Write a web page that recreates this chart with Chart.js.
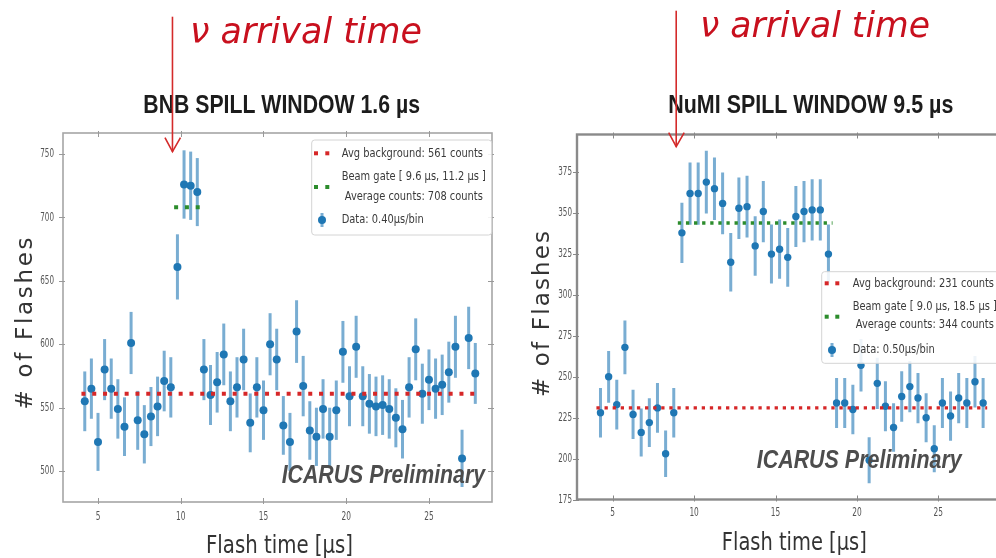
<!DOCTYPE html>
<html><head><meta charset="utf-8">
<script src="https://cdn.jsdelivr.net/npm/chart.js@4.4.1/dist/chart.umd.min.js"></script>
<style>
html,body{margin:0;padding:0;background:#fff;overflow:hidden;width:996px;height:558px;}
#wrap{position:relative;width:996px;height:558px;overflow:hidden;background:#fff;}
canvas{position:absolute;top:0;}
#cL{left:0;width:500px;height:558px;}
#cR{left:510px;width:500px;height:558px;}
</style></head><body>
<div id="wrap"><canvas id="cL" width="500" height="558"></canvas><canvas id="cR" width="500" height="558"></canvas></div>
<script>
// ---------------- BNB (left) ----------------
const bnbTime = [4.2,4.6,5.0,5.4,5.8,6.2,6.6,7.0,7.4,7.8,8.2,8.6,9.0,9.4,9.8,10.2,10.6,11.0,11.4,11.8,
  12.2,12.6,13.0,13.4,13.8,14.2,14.6,15.0,15.4,15.8,16.2,16.6,17.0,17.4,17.8,18.2,18.6,19.0,19.4,19.8,
  20.2,20.6,21.0,21.4,21.8,22.2,22.6,23.0,23.4,23.8,24.2,24.6,25.0,25.4,25.8,26.2,26.6,27.0,27.4,27.8];
const bnbCounts = [555,565,523,580,565,549,535,601,540,529,543,551,571,566,661,726,725,720,580,560,
  570,592,555,566,588,538,566,548,600,588,536,523,610,567,532,527,549,527,548,594,
  559,598,559,553,551,552,549,542,533,566,596,561,572,565,568,578,598,510,605,577];
const bnbBackground = 561;
const bnbBackgroundRange = [4.0, 28.0];
const bnbGateAverage = 708;
const bnbGateRange = [9.6, 11.2];
const bnbArrival = 9.5;
const bnbXTicks = [5, 10, 15, 20, 25];
const bnbYTicks = [500, 550, 600, 650, 700, 750];
const bnbXRange = [2.885, 28.81];
const bnbYRange = [475.6, 766.6];
const bnbTitle = 'BNB SPILL WINDOW 1.6 µs';
const bnbLegend = ['Avg background: 561 counts', 'Beam gate [ 9.6 µs, 11.2 µs ]', 'Average counts: 708 counts', 'Data: 0.40µs/bin'];

// ---------------- NuMI (right) ----------------
const numiTime = [4.25,4.75,5.25,5.75,6.25,6.75,7.25,7.75,8.25,8.75,9.25,9.75,10.25,10.75,11.25,11.75,
  12.25,12.75,13.25,13.75,14.25,14.75,15.25,15.75,16.25,16.75,17.25,17.75,18.25,18.75,19.25,19.75,
  20.25,20.75,21.25,21.75,22.25,22.75,23.25,23.75,24.25,24.75,25.25,25.75,26.25,26.75,27.25,27.75];
const numiCounts = [228,250,233,268,227,216,222,231,203,228,338,362,362,369,365,356,
  320,353,354,330,351,325,328,323,348,351,352,352,325,234,234,230,
  257,199,246,232,219,238,244,237,225,206,234,226,237,234,247,234];
const numiBackground = 231;
const numiBackgroundRange = [4.0, 28.0];
const numiGateAverage = 344;
const numiGateRange = [9.0, 18.5];
const numiArrival = 8.9;
const numiXTicks = [5, 10, 15, 20, 25];
const numiYTicks = [175, 200, 225, 250, 275, 300, 325, 350, 375];
const numiXRange = [2.807, 28.91];
const numiYRange = [175, 398.1];
const numiTitle = 'NuMI SPILL WINDOW 9.5 µs';
const numiLegend = ['Avg background: 231 counts', 'Beam gate [ 9.0 µs, 18.5 µs ]', 'Average counts: 344 counts', 'Data: 0.50µs/bin'];

const nuLabel = 'ν arrival time';
const xAxisTitle = 'Flash time [µs]';
const yAxisTitle = '# of Flashes';
const watermark = 'ICARUS Preliminary';

// ---------------- helpers ----------------
function drawText(ctx, s, x, y, font, color, o) {
  o = o || {};
  ctx.save();
  ctx.font = font; ctx.fillStyle = color;
  ctx.textBaseline = o.baseline || 'alphabetic';
  ctx.textAlign = 'left';
  const w = ctx.measureText(s).width;
  const sx = o.width ? o.width / w : (o.sx || 1);
  let x0 = x;
  if (o.align === 'center') x0 = x - w * sx / 2;
  else if (o.align === 'right') x0 = x - w * sx;
  ctx.translate(x0, y); ctx.scale(sx, 1);
  ctx.fillText(s, 0, 0);
  ctx.restore();
}
function drawSpacedVertical(ctx, s, bx, cy, len, font, color) {
  ctx.save();
  ctx.font = font; ctx.fillStyle = color; ctx.textBaseline = 'alphabetic'; ctx.textAlign = 'left';
  const chars = Array.from(s);
  const ws = chars.map(c => ctx.measureText(c).width);
  const tot = ws.reduce((a, b) => a + b, 0);
  const gap = (len - tot) / (chars.length - 1);
  ctx.translate(bx, cy); ctx.rotate(-Math.PI / 2);
  let u = -len / 2;
  chars.forEach((c, i) => { ctx.fillText(c, u, 0); u += ws[i] + gap; });
  ctx.restore();
}

function makeChart(id, d, s) {
  const errs = d.counts.map(c => Math.sqrt(c)); // Poisson error bars (√N), as in the reference
  const pts = d.time.map((t, i) => ({ x: t, y: d.counts[i] }));
  const overlay = {
    id: 'overlay_' + id,
    beforeDatasetsDraw(chart) {
      const { ctx, chartArea: a, scales: { x, y } } = chart;
      ctx.save();
      ctx.beginPath(); ctx.rect(a.left, a.top, a.right - a.left, a.bottom - a.top); ctx.clip();
      ctx.strokeStyle = 'rgba(31,119,180,0.6)'; ctx.lineWidth = s.errW; ctx.lineCap = 'butt';
      d.time.forEach((t, i) => {
        const xp = x.getPixelForValue(t);
        ctx.beginPath();
        ctx.moveTo(xp, y.getPixelForValue(d.counts[i] - errs[i]));
        ctx.lineTo(xp, y.getPixelForValue(d.counts[i] + errs[i]));
        ctx.stroke();
      });
      ctx.restore();
    },
    afterDatasetsDraw(chart) {
      const { ctx, chartArea: a, scales: { x, y } } = chart;
      // frame
      ctx.save();
      ctx.strokeStyle = s.frameColor; ctx.lineWidth = s.frameW;
      ctx.strokeRect(a.left, a.top, a.right - a.left, a.bottom - a.top);
      // ticks
      ctx.lineWidth = 1; ctx.strokeStyle = s.tickColor;
      d.xTicks.forEach(v => {
        const xp = Math.round(x.getPixelForValue(v)) + 0.5;
        ctx.beginPath(); ctx.moveTo(xp, a.top - 2); ctx.lineTo(xp, a.top + 4); ctx.stroke();
        ctx.beginPath(); ctx.moveTo(xp, a.bottom + 2); ctx.lineTo(xp, a.bottom - 4); ctx.stroke();
      });
      d.yTicks.forEach(v => {
        const yp = Math.round(y.getPixelForValue(v)) + 0.5;
        ctx.beginPath(); ctx.moveTo(a.left - 4, yp); ctx.lineTo(a.left + 2, yp); ctx.stroke();
        ctx.beginPath(); ctx.moveTo(a.right + 2, yp); ctx.lineTo(a.right - 4, yp); ctx.stroke();
      });
      ctx.restore();
      // tick labels
      d.xTicks.forEach(v => drawText(ctx, String(v), x.getPixelForValue(v), a.bottom + s.xLabOff,
        '12px "DejaVu Sans"', '#555', { align: 'center', baseline: 'middle', sx: 0.62 }));
      d.yTicks.forEach(v => drawText(ctx, String(v), a.left - s.yLabGap, y.getPixelForValue(v),
        '12px "DejaVu Sans"', '#555', { align: 'right', baseline: 'middle', sx: 0.6 }));
      // legend
      const L = s.legend;
      ctx.save();
      ctx.beginPath();
      if (ctx.roundRect) ctx.roundRect(L.x, L.y, L.w, L.h, 3); else ctx.rect(L.x, L.y, L.w, L.h);
      ctx.fillStyle = 'rgba(255,255,255,0.88)'; ctx.fill();
      ctx.strokeStyle = '#d4d4d4'; ctx.lineWidth = 1; ctx.stroke();
      ctx.fillStyle = '#d62728';
      L.symX.forEach(sx => ctx.fillRect(sx - 2, L.rows[0] - 2, 4, 4));
      ctx.fillStyle = '#2c8c2c';
      L.symX.forEach(sx => ctx.fillRect(sx - 2, L.greenY - 2, 4, 4));
      ctx.strokeStyle = 'rgba(31,119,180,0.6)'; ctx.lineWidth = 3;
      ctx.beginPath(); ctx.moveTo(L.markX, L.rows[3] - 7); ctx.lineTo(L.markX, L.rows[3] + 7); ctx.stroke();
      ctx.fillStyle = '#1f77b4';
      ctx.beginPath(); ctx.arc(L.markX, L.rows[3], 4, 0, Math.PI * 2); ctx.fill();
      ctx.restore();
      const lf = '12.5px "DejaVu Sans"', lc = '#3a3a3a', lsx = 0.79;
      drawText(ctx, d.legend[0], L.textX, L.rows[0], lf, lc, { baseline: 'middle', sx: lsx });
      ctx.save(); ctx.font = lf;
      const w1 = ctx.measureText(d.legend[1]).width * lsx, w2 = ctx.measureText(d.legend[2]).width * lsx;
      ctx.restore();
      const cx = L.textX + Math.max(w1, w2) / 2;
      drawText(ctx, d.legend[1], cx, L.rows[1], lf, lc, { baseline: 'middle', sx: lsx, align: 'center' });
      drawText(ctx, d.legend[2], cx, L.rows[2], lf, lc, { baseline: 'middle', sx: lsx, align: 'center' });
      drawText(ctx, d.legend[3], L.textX, L.rows[3], lf, lc, { baseline: 'middle', sx: lsx });
      // watermark
      drawText(ctx, watermark, s.wm.x, s.wm.y, 'italic bold 25.5px "Liberation Sans"', '#4d4d4d', { width: s.wm.w });
      // titles & axis titles
      drawText(ctx, d.title, s.title.x, s.title.y, 'bold 26px "Liberation Sans"', '#1c1c1c', { width: s.title.w });
      drawText(ctx, xAxisTitle, s.xt.x, s.xt.y, '24px "DejaVu Sans"', '#333', { width: s.xt.w, align: 'center' });
      drawSpacedVertical(ctx, yAxisTitle, s.yt.x, s.yt.y, s.yt.len, '23px "DejaVu Sans"', '#333');
      // nu arrival annotation
      drawText(ctx, nuLabel, s.nu.x, s.nu.y, 'italic 35px "Comic Sans MS", "DejaVu Sans"', '#c8101e', { width: s.nu.w });
      const ax = x.getPixelForValue(d.arrival);
      ctx.save();
      ctx.strokeStyle = '#d42a2a'; ctx.lineWidth = 1.6; ctx.lineJoin = 'miter';
      ctx.beginPath(); ctx.moveTo(ax, s.arrow.top); ctx.lineTo(ax, s.arrow.tip); ctx.stroke();
      ctx.beginPath(); ctx.moveTo(ax - 7.5, s.arrow.tip - 14); ctx.lineTo(ax, s.arrow.tip); ctx.lineTo(ax + 8, s.arrow.tip - 14); ctx.stroke();
      ctx.restore();
    }
  };
  return new Chart(document.getElementById(id), {
    type: 'scatter',
    data: {
      datasets: [
        { label: 'Data', data: pts, backgroundColor: '#1f77b4', borderWidth: 0,
          pointRadius: s.markR, pointHoverRadius: s.markR, order: 2 },
        { type: 'line', label: 'Avg background', showLine: true,
          data: [{ x: d.bgRange[0], y: d.bg }, { x: d.bgRange[1], y: d.bg }],
          borderColor: '#d62728', borderWidth: s.dotW, borderDash: s.dash, borderCapStyle: 'butt',
          pointRadius: 0, fill: false, order: 1 },
        { type: 'line', label: 'Beam gate', showLine: true,
          data: [{ x: d.gateRange[0], y: d.gate }, { x: d.gateRange[1], y: d.gate }],
          borderColor: '#2c8c2c', borderWidth: s.dotW, borderDash: s.dash, borderCapStyle: 'butt',
          pointRadius: 0, fill: false, order: 1 }
      ]
    },
    options: {
      responsive: false, animation: false, devicePixelRatio: 1,
      layout: { padding: { left: 0, right: s.padR, top: s.padT, bottom: 0 } },
      plugins: { legend: { display: false }, tooltip: { enabled: false }, title: { display: false } },
      events: [],
      scales: {
        x: { type: 'linear', min: d.xRange[0], max: d.xRange[1],
          grid: { display: false }, border: { display: false }, ticks: { display: false },
          afterBuildTicks: sc => { sc.ticks = d.xTicks.map(v => ({ value: v })); },
          afterFit: sc => { sc.height = s.xH; } },
        y: { type: 'linear', min: d.yRange[0], max: d.yRange[1],
          grid: { display: false }, border: { display: false }, ticks: { display: false },
          afterBuildTicks: sc => { sc.ticks = d.yTicks.map(v => ({ value: v })); },
          afterFit: sc => { sc.width = s.yW; } }
      }
    },
    plugins: [overlay]
  });
}

makeChart('cL', {
  time: bnbTime, counts: bnbCounts, bg: bnbBackground, bgRange: bnbBackgroundRange,
  gate: bnbGateAverage, gateRange: bnbGateRange, arrival: bnbArrival,
  xTicks: bnbXTicks, yTicks: bnbYTicks, xRange: bnbXRange, yRange: bnbYRange,
  title: bnbTitle, legend: bnbLegend
}, {
  padT: 133, padR: 8, xH: 56, yW: 63, markR: 4, errW: 3, dotW: 4, dash: [4, 6.8],
  frameColor: '#a6a6a6', frameW: 1.6, tickColor: '#999', xLabOff: 15, yLabGap: 9,
  legend: { x: 311.7, y: 140, w: 180, h: 95, rows: [153.3, 176.7, 196.7, 220], greenY: 187,
    symX: [316, 327.3], markX: 322, textX: 341.7 },
  wm: { x: 281.7, y: 483.3, w: 203.3 },
  title: { x: 143.3, y: 113.3, w: 276.7 },
  xt: { x: 279.5, y: 553, w: 147 },
  yt: { x: 32, y: 323.5, len: 172 },
  nu: { x: 190, y: 43, w: 232 },
  arrow: { top: 16.7, tip: 151.7 }
});

makeChart('cR', {
  time: numiTime, counts: numiCounts, bg: numiBackground, bgRange: numiBackgroundRange,
  gate: numiGateAverage, gateRange: numiGateRange, arrival: numiArrival,
  xTicks: numiXTicks, yTicks: numiYTicks, xRange: numiXRange, yRange: numiYRange,
  title: numiTitle, legend: numiLegend
}, {
  padT: 134.5, padR: 8, xH: 58.5, yW: 67, markR: 3.7, errW: 3, dotW: 3.3, dash: [3.3, 4.8],
  frameColor: '#8a8a8a', frameW: 2.4, tickColor: '#888', xLabOff: 13, yLabGap: 5,
  legend: { x: 311.7, y: 271.7, w: 200, h: 91.6, rows: [283.3, 306.7, 325, 350], greenY: 316.7,
    symX: [316.7, 327.3], markX: 322, textX: 342.7 },
  wm: { x: 246.7, y: 468.3, w: 205 },
  title: { x: 158.3, y: 113, w: 285 },
  xt: { x: 284.3, y: 550, w: 145 },
  yt: { x: 38.5, y: 314, len: 166 },
  nu: { x: 190, y: 37, w: 230 },
  arrow: { top: 10.7, tip: 146.7 }
});
</script>
</body></html>
